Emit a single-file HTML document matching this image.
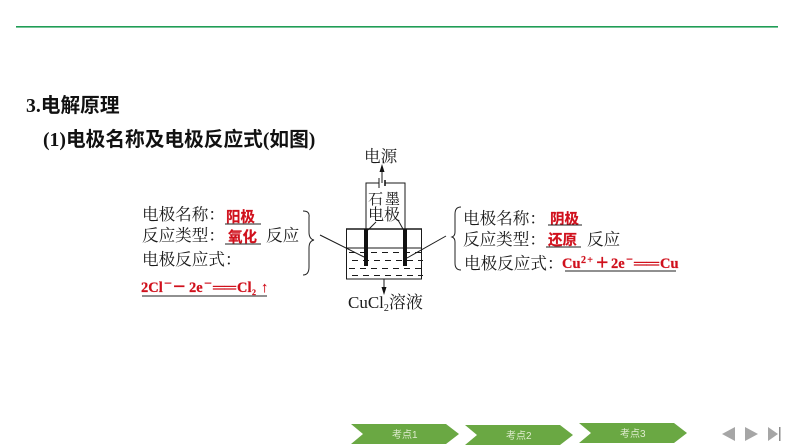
<!DOCTYPE html>
<html><head><meta charset="utf-8"><style>
html,body{margin:0;padding:0;background:#fff}
svg{display:block}
text{font-family:"Liberation Serif","Noto Serif CJK SC",serif;fill:#1a1a1a}
.c{font-size:16.6px}
.h{font-family:"Liberation Serif","Noto Sans CJK SC",sans-serif;font-weight:bold;font-size:19.700px;fill:#111}
.r{font-family:"Liberation Serif","Noto Sans CJK SC",sans-serif;font-weight:bold;font-size:14.500px;fill:#d0101c;stroke:#d0101c;stroke-width:.2}
.n{font-family:"Liberation Sans","Noto Sans CJK SC",sans-serif;font-size:10px;fill:#dfeccf}
</style></head><body>
<svg width="794" height="447" viewBox="0 0 794 447" xmlns="http://www.w3.org/2000/svg">
<rect width="794" height="447" fill="#fff"/>
<rect x="16" y="26" width="762" height="1.6" fill="#1f9d55"/>
<text class="h" x="26" y="112">3.电解原理</text>
<text class="h" x="43" y="146">(1)电极名称及电极反应式(如图)</text>

<!-- left labels -->
<text class="c" x="142" y="220">电极名称：</text>
<text class="r" x="226" y="222">阳极</text>
<line x1="225" y1="224" x2="261" y2="224" stroke="#222" stroke-width="1"/>
<text class="c" x="142" y="241">反应类型：</text>
<text class="r" x="228" y="242">氧化</text>
<line x1="225" y1="244" x2="261" y2="244" stroke="#222" stroke-width="1"/>
<text class="c" x="266" y="241">反应</text>
<text class="c" x="142" y="265">电极反应式：</text>

<text class="r" x="141" y="292">2Cl</text>
<text class="r" x="164" y="288" font-size="10" textLength="8" lengthAdjust="spacingAndGlyphs">−</text>
<text class="r" x="172" y="292">－</text>
<text class="r" x="189" y="292">2e</text>
<text class="r" x="204" y="288" textLength="8" lengthAdjust="spacingAndGlyphs">−</text>
<text class="r" x="213" y="292" textLength="23" lengthAdjust="spacingAndGlyphs">══</text>
<text class="r" x="237" y="292">Cl</text>
<text class="r" x="252" y="295" style="font-size:8px">2</text>
<text class="r" x="261" y="292">↑</text>
<line x1="142" y1="296" x2="267" y2="296" stroke="#222" stroke-width="1"/>
<path d="M303 211 Q310 211 309 217 L309 232 Q309 239 314 240 Q309 241 309 248 L309 267 Q309 275 303 275" fill="none" stroke="#222" stroke-width="1"/>

<!-- diagram -->
<g fill="none" stroke="#1a1a1a">
<path d="M366 229 V183 H379 M385 183 H405 V229" stroke-width="1"/>
<path d="M379 178 V188" stroke-width="1"/>
<path d="M385 180 V186" stroke-width="1.6"/>
<line x1="382" y1="183" x2="382" y2="170" stroke-width="1"/>
<rect x="346.5" y="229" width="75" height="50" stroke-width="1"/>
<line x1="346" y1="229" x2="422" y2="229" stroke-width="1.6"/>
<line x1="347" y1="248" x2="421" y2="248" stroke-width="1"/>
<line x1="376" y1="222" x2="368" y2="230" stroke-width="1"/>
<line x1="398" y1="220" x2="403" y2="229" stroke-width="1"/>
<line x1="320" y1="235" x2="364" y2="257" stroke-width="1"/>
<line x1="446" y1="236" x2="407" y2="258" stroke-width="1"/>
<line x1="384" y1="279" x2="384" y2="291" stroke-width="1"/>
<path d="M349 252.500h6m5 0h6m5 0h6m5 0h6m5 0h6m5 0h6m5 0h6M352 260.500h6m5 0h6m5 0h6m5 0h6m5 0h6m5 0h6m5 0h5M349 268.500h6m5 0h6m5 0h6m5 0h6m5 0h6m5 0h6m5 0h6M352 275.500h6m5 0h6m5 0h6m5 0h6m5 0h6m5 0h6m5 0h5" stroke-width="1"/>
</g>
<rect x="364" y="229" width="4" height="37" fill="#111"/>
<rect x="403" y="229" width="4" height="37" fill="#111"/>
<path d="M382 164 L379.500 172 L384.500 172 Z" fill="#111"/>
<path d="M384 295 L381.500 287 L386.500 287 Z" fill="#111"/>
<text class="c" x="364" y="162">电源</text>
<text x="368" y="204" style="font-size:15px" letter-spacing="2">石墨</text>
<text x="368" y="220" style="font-size:16px">电极</text>
<text x="348" y="308" style="font-size:17px">CuCl<tspan font-size="10" dy="3">2</tspan><tspan dy="-3">溶液</tspan></text>

<!-- right labels -->
<path d="M461 207 Q455 207 455 214 V232 Q455 236 452 237 Q455 238 455 242 V263 Q455 270 461 270" fill="none" stroke="#222" stroke-width="1"/>
<text class="c" x="463" y="224">电极名称：</text>
<text class="r" x="550" y="224">阴极</text>
<line x1="548" y1="225" x2="582" y2="225" stroke="#222" stroke-width="1"/>
<text class="c" x="463" y="245">反应类型：</text>
<text class="r" x="548" y="245">还原</text>
<line x1="546" y1="247" x2="581" y2="247" stroke="#222" stroke-width="1"/>
<text class="c" x="587" y="245">反应</text>
<text class="c" x="464" y="269">电极反应式：</text>

<text class="r" x="562" y="268">Cu</text>
<text class="r" x="581" y="263" style="font-size:10px" textLength="12">2+</text>
<text class="r" x="595" y="268">＋</text>
<text class="r" x="611" y="268">2e</text>
<text class="r" x="626" y="264" textLength="7" lengthAdjust="spacingAndGlyphs">−</text>
<text class="r" x="634" y="268" textLength="25" lengthAdjust="spacingAndGlyphs">══</text>
<text class="r" x="660" y="268">Cu</text>
<line x1="565" y1="271" x2="676" y2="271" stroke="#222" stroke-width="1"/>

<!-- nav -->
<path d="M351 424 H446 L459 434 L446 444 H351 L363 434 Z" fill="#6aa843"/>
<path d="M465 425 H560 L573 435 L560 445 H465 L477 435 Z" fill="#6aa843"/>
<path d="M579 423 H674 L687 433 L674 443 H579 L591 433 Z" fill="#6aa843"/>
<text class="n" x="392" y="438">考点1</text>
<text class="n" x="506" y="439">考点2</text>
<text class="n" x="620" y="437">考点3</text>
<path d="M722 434 L735 427 V441 Z M745 427 L758 434 L745 441 Z M768 427 L778 434 L768 441 Z" fill="#a6a6a6"/>
<rect x="779" y="427" width="1.500" height="14" fill="#8c8c8c"/>
</svg>
</body></html>
